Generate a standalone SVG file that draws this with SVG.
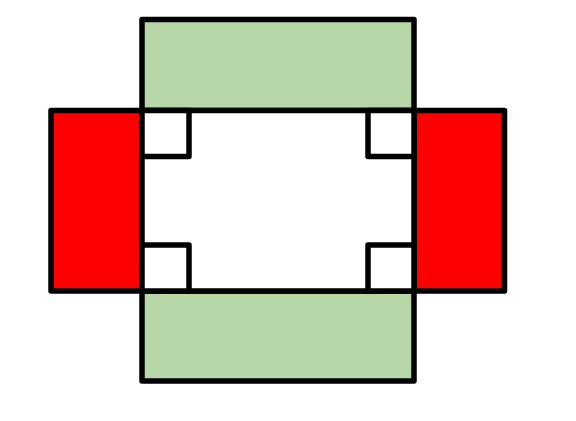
<svg xmlns="http://www.w3.org/2000/svg" width="576" height="421" viewBox="0 0 576 421">
<style>
.s{stroke:#000;stroke-width:5.5;stroke-linejoin:round}
.g{fill:#b7d7a8}
.r{fill:#ff0000}
.w{fill:#fff}
</style>
<rect width="576" height="421" fill="#fff"/>
<g id="top-green"><rect class="s g" x="142" y="19.5" width="272" height="91"/></g>
<g id="bottom-green"><rect class="s g" x="142" y="291" width="272" height="90"/></g>
<g id="left-red"><rect class="s r" x="51" y="110.5" width="91" height="180.5"/></g>
<g id="right-red"><rect class="s r" x="414" y="110.5" width="90.5" height="180.5"/></g>
<g id="center"><rect class="s w" x="142" y="110.5" width="272" height="180.5"/></g>
<g id="sq-tl"><rect class="s w" x="142" y="110.5" width="47" height="46"/></g>
<g id="sq-tr"><rect class="s w" x="368" y="110.5" width="46" height="46"/></g>
<g id="sq-bl"><rect class="s w" x="142" y="245" width="47" height="46"/></g>
<g id="sq-br"><rect class="s w" x="368" y="245" width="46" height="46"/></g>
</svg>
